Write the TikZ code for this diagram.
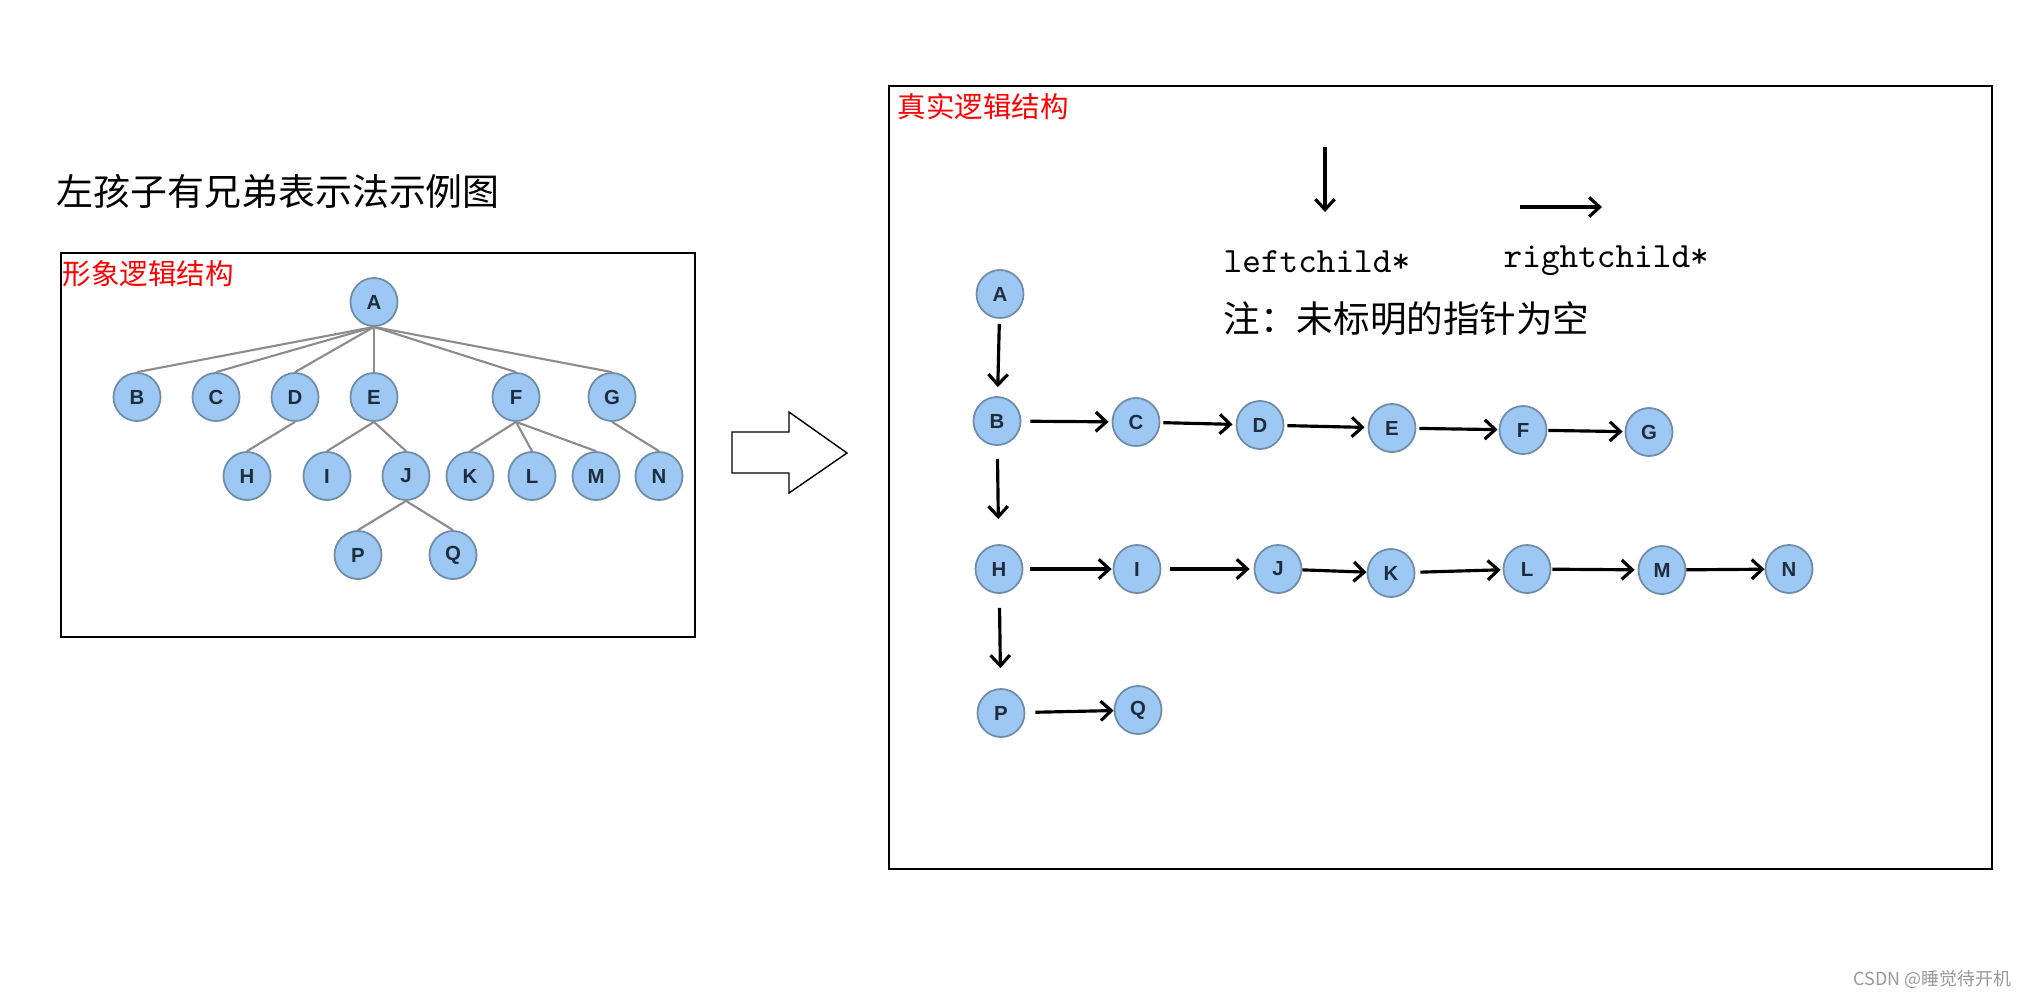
\documentclass[tikz,border=0pt]{standalone}
\usepackage{fontspec}
\newfontfamily\cjk{Noto Sans CJK SC}
\newfontfamily\letterfont{Liberation Sans}
\usetikzlibrary{shapes.geometric,arrows.meta}

\definecolor{nodefill}{HTML}{9DC8F3}
\definecolor{nodeline}{HTML}{6F8CA8}
\definecolor{nodetext}{HTML}{1E2D3D}

\begin{document}
\begin{tikzpicture}[x=0.01cm, y=-0.01cm,
	tnode/.style={ellipse, draw=nodeline, line width=0.5pt, fill=nodefill, minimum width=0.47cm, minimum height=0.48cm, inner sep=0pt, text=nodetext, font=\letterfont\bfseries\fontsize{5.8}{6}\selectfont},
	tline/.style={black!45, line width=0.6pt},
	ptr/.style={-{Straight Barb[length=3pt, width=5.5pt]}, line width=0.9pt},
	plain/.style={anchor=base west, inner sep=0pt},
	redlabel/.style={plain, text=red, font=\cjk\fontsize{8.1}{9}\selectfont}]
	\fill[white] (0,0) rectangle (2039,999);
	\useasboundingbox (0,0) rectangle (2039,999);

	\node [plain, font=\cjk\fontsize{10.5}{12}\selectfont] (title) at (56,205) {左孩子有兄弟表示法示例图};

	% linker Kasten: Baum
	\draw[line width=0.4pt] (61,253) rectangle (695,637);
	\node [redlabel] (lLabel) at (62,284) {形象逻辑结构};

	\node [tnode] (lA) at (374,302) {A};
	\node [tnode] (lB) at (137,397) {B};
	\node [tnode] (lC) at (216,397) {C};
	\node [tnode] (lD) at (295,397) {D};
	\node [tnode] (lE) at (374,397) {E};
	\node [tnode] (lF) at (516,397) {F};
	\node [tnode] (lG) at (612,397) {G};
	\node [tnode] (lH) at (247,476) {H};
	\node [tnode] (lI) at (327,476) {I};
	\node [tnode] (lJ) at (406,476) {J};
	\node [tnode] (lK) at (470,476) {K};
	\node [tnode] (lL) at (532,476) {L};
	\node [tnode] (lM) at (596,476) {M};
	\node [tnode] (lN) at (659,476) {N};
	\node [tnode] (lP) at (358,555) {P};
	\node [tnode] (lQ) at (453,555) {Q};

	\draw[tline] (lA.south) -- (lB.north);
	\draw[tline] (lA.south) -- (lC.north);
	\draw[tline] (lA.south) -- (lD.north);
	\draw[tline] (lA.south) -- (lE.north);
	\draw[tline] (lA.south) -- (lF.north);
	\draw[tline] (lA.south) -- (lG.north);
	\draw[tline] (lD.south) -- (lH.north);
	\draw[tline] (lE.south) -- (lI.north);
	\draw[tline] (lE.south) -- (lJ.north);
	\draw[tline] (lF.south) -- (lK.north);
	\draw[tline] (lF.south) -- (lL.north);
	\draw[tline] (lF.south) -- (lM.north);
	\draw[tline] (lG.south) -- (lN.north);
	\draw[tline] (lJ.south) -- (lP.north);
	\draw[tline] (lJ.south) -- (lQ.north);

	% Pfeil in der Mitte
	\draw[line width=0.4pt] (732,432) -- (789,432) -- (789,412) -- (847,453) -- (789,493) -- (789,473) -- (732,473) -- cycle;

	% rechter Kasten
	\draw[line width=0.4pt] (889,86) rectangle (1992,869);
	\node [redlabel] (rLabel) at (897,117) {真实逻辑结构};

	\coordinate (lcTop) at (1325,147);
	\coordinate (lcEnd) at (1325,212);
	\draw[ptr] (lcTop) -- (lcEnd);					% leftchild
	\coordinate (rcStart) at (1520,207);
	\coordinate (rcEnd) at (1602,207);
	\draw[ptr] (rcStart) -- (rcEnd);				% rightchild
	\node [plain, font=\ttfamily\fontsize{10.1}{12}\selectfont] (lcText) at (1223,272) {leftchild*};
	\node [plain, font=\ttfamily\fontsize{10.1}{12}\selectfont] (rcText) at (1503,267) {rightchild*};
	\node [plain, font=\cjk\fontsize{10.4}{12}\selectfont] (note) at (1223,332) {注：未标明的指针为空};

	\node [tnode] (rA) at (1000,294) {A};
	\node [tnode] (rB) at (997,421) {B};
	\node [tnode] (rC) at (1136,422) {C};
	\node [tnode] (rD) at (1260,425) {D};
	\node [tnode] (rE) at (1392,428) {E};
	\node [tnode] (rF) at (1523,430) {F};
	\node [tnode] (rG) at (1649,432) {G};
	\node [tnode] (rH) at (999,569) {H};
	\node [tnode] (rI) at (1137,569) {I};
	\node [tnode] (rJ) at (1278,569) {J};
	\node [tnode] (rK) at (1391,573) {K};
	\node [tnode] (rL) at (1527,569) {L};
	\node [tnode] (rM) at (1662,570) {M};
	\node [tnode] (rN) at (1789,569) {N};
	\node [tnode] (rP) at (1001,713) {P};
	\node [tnode] (rQ) at (1138,710) {Q};

	\draw[ptr, shorten <=0.05cm, shorten >=0.09cm] (rA) -- (rB);		% linkes Kind
	\draw[ptr, shorten <=0.13cm, shorten >=0.25cm] (rB) -- (rH);
	\draw[ptr, shorten <=0.14cm, shorten >=0.20cm] (rH) -- (rP);

	\draw[ptr, shorten <=0.09cm, shorten >=0.03cm] (rB) -- (rC);		% rechter Bruder
	\draw[ptr, shorten <=0.03cm, shorten >=0.03cm] (rC) -- (rD);
	\draw[ptr, shorten <=0.03cm, shorten >=0.03cm] (rD) -- (rE);
	\draw[ptr, shorten <=0.03cm, shorten >=0.01cm] (rE) -- (rF);
	\draw[ptr, shorten <=0.01cm, shorten >=0.02cm] (rF) -- (rG);
	\draw[ptr, shorten <=0.07cm, shorten >=0.01cm] (rH) -- (rI);
	\draw[ptr, shorten <=0.09cm, shorten >=0.04cm] (rI) -- (rJ);
	\draw[ptr, shorten <=0.0cm, shorten >=0.0cm] (rJ) -- (rK);
	\draw[ptr, shorten <=0.05cm, shorten >=0.02cm] (rK) -- (rL);
	\draw[ptr, shorten <=0.01cm, shorten >=0.03cm] (rL) -- (rM);
	\draw[ptr, shorten <=0.0cm, shorten >=0.0cm] (rM) -- (rN);
	\draw[ptr, shorten <=0.10cm, shorten >=0.0cm] (rP) -- (rQ);

	\node [plain, text=black!40, font=\cjk\fontsize{5.1}{6}\selectfont] (mark) at (1853,985) {CSDN @睡觉待开机};
\end{tikzpicture}
\end{document}
